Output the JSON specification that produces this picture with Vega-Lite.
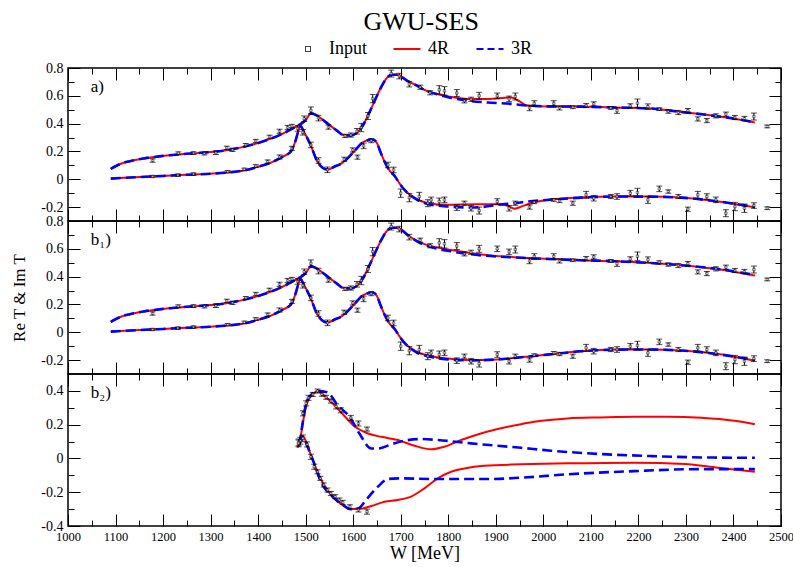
{
"$schema": "https://vega.github.io/schema/vega-lite/v6.json",
"background": "white",
"padding": {"left": 10, "right": 0, "top": 9, "bottom": 3},
"title": {"text": "GWU-SES", "font": "Liberation Serif", "fontSize": 26, "fontWeight": "normal", "color": "black", "anchor": "middle", "dx": 19, "offset": 5},
"spacing": 0,
"bounds": "flush",
"config": {
  "font": "Liberation Serif",
  "view": {"stroke": "black", "strokeWidth": 1.5},
  "axis": {"domain": false, "grid": false, "tickColor": "black", "tickWidth": 1, "labelColor": "black", "titleColor": "black", "labelFont": "Liberation Serif", "titleFont": "Liberation Serif", "labelFlush": false, "labelOverlap": false}
},
"resolve": {"scale": {"y": "independent"}},
"datasets": {
"inp": [
{"p":"ab","c":"Re","W":1178,"v":0.135,"lo":0.123,"hi":0.147},
{"p":"ab","c":"Re","W":1232,"v":0.187,"lo":0.177,"hi":0.197},
{"p":"ab","c":"Re","W":1264,"v":0.188,"lo":0.178,"hi":0.198},
{"p":"ab","c":"Re","W":1287,"v":0.185,"lo":0.175,"hi":0.195},
{"p":"ab","c":"Re","W":1311,"v":0.190,"lo":0.178,"hi":0.202},
{"p":"ab","c":"Re","W":1334,"v":0.226,"lo":0.214,"hi":0.238},
{"p":"ab","c":"Re","W":1346,"v":0.212,"lo":0.200,"hi":0.224},
{"p":"ab","c":"Re","W":1374,"v":0.247,"lo":0.237,"hi":0.257},
{"p":"ab","c":"Re","W":1395,"v":0.275,"lo":0.263,"hi":0.287},
{"p":"ab","c":"Re","W":1424,"v":0.305,"lo":0.293,"hi":0.317},
{"p":"ab","c":"Re","W":1445,"v":0.345,"lo":0.330,"hi":0.360},
{"p":"ab","c":"Re","W":1462,"v":0.372,"lo":0.357,"hi":0.387},
{"p":"ab","c":"Re","W":1471,"v":0.383,"lo":0.371,"hi":0.395},
{"p":"ab","c":"Re","W":1497,"v":0.435,"lo":0.415,"hi":0.455},
{"p":"ab","c":"Re","W":1511,"v":0.495,"lo":0.470,"hi":0.520},
{"p":"ab","c":"Re","W":1527,"v":0.440,"lo":0.420,"hi":0.460},
{"p":"ab","c":"Re","W":1548,"v":0.375,"lo":0.360,"hi":0.390},
{"p":"ab","c":"Re","W":1583,"v":0.312,"lo":0.300,"hi":0.324},
{"p":"ab","c":"Re","W":1595,"v":0.318,"lo":0.303,"hi":0.333},
{"p":"ab","c":"Re","W":1608,"v":0.345,"lo":0.325,"hi":0.365},
{"p":"ab","c":"Re","W":1617,"v":0.372,"lo":0.342,"hi":0.402},
{"p":"ab","c":"Re","W":1631,"v":0.455,"lo":0.430,"hi":0.480},
{"p":"ab","c":"Re","W":1641,"v":0.580,"lo":0.550,"hi":0.610},
{"p":"ab","c":"Re","W":1680,"v":0.760,"lo":0.735,"hi":0.785},
{"p":"ab","c":"Re","W":1697,"v":0.742,"lo":0.722,"hi":0.762},
{"p":"ab","c":"Re","W":1718,"v":0.684,"lo":0.664,"hi":0.704},
{"p":"ab","c":"Re","W":1741,"v":0.662,"lo":0.647,"hi":0.677},
{"p":"ab","c":"Re","W":1762,"v":0.622,"lo":0.607,"hi":0.637},
{"p":"ab","c":"Re","W":1781,"v":0.643,"lo":0.613,"hi":0.673},
{"p":"ab","c":"Re","W":1792,"v":0.636,"lo":0.606,"hi":0.666},
{"p":"ab","c":"Re","W":1818,"v":0.620,"lo":0.595,"hi":0.645},
{"p":"ab","c":"Re","W":1834,"v":0.564,"lo":0.549,"hi":0.579},
{"p":"ab","c":"Re","W":1848,"v":0.575,"lo":0.560,"hi":0.590},
{"p":"ab","c":"Re","W":1865,"v":0.600,"lo":0.575,"hi":0.625},
{"p":"ab","c":"Re","W":1903,"v":0.600,"lo":0.580,"hi":0.620},
{"p":"ab","c":"Re","W":1928,"v":0.578,"lo":0.558,"hi":0.598},
{"p":"ab","c":"Re","W":1941,"v":0.595,"lo":0.570,"hi":0.620},
{"p":"ab","c":"Re","W":1971,"v":0.513,"lo":0.493,"hi":0.533},
{"p":"ab","c":"Re","W":1981,"v":0.545,"lo":0.525,"hi":0.565},
{"p":"ab","c":"Re","W":2022,"v":0.545,"lo":0.525,"hi":0.565},
{"p":"ab","c":"Re","W":2034,"v":0.513,"lo":0.498,"hi":0.528},
{"p":"ab","c":"Re","W":2062,"v":0.518,"lo":0.508,"hi":0.528},
{"p":"ab","c":"Re","W":2090,"v":0.530,"lo":0.515,"hi":0.545},
{"p":"ab","c":"Re","W":2106,"v":0.542,"lo":0.527,"hi":0.557},
{"p":"ab","c":"Re","W":2142,"v":0.513,"lo":0.503,"hi":0.523},
{"p":"ab","c":"Re","W":2155,"v":0.494,"lo":0.474,"hi":0.514},
{"p":"ab","c":"Re","W":2183,"v":0.528,"lo":0.513,"hi":0.543},
{"p":"ab","c":"Re","W":2198,"v":0.547,"lo":0.517,"hi":0.577},
{"p":"ab","c":"Re","W":2220,"v":0.522,"lo":0.502,"hi":0.542},
{"p":"ab","c":"Re","W":2244,"v":0.504,"lo":0.494,"hi":0.514},
{"p":"ab","c":"Re","W":2263,"v":0.487,"lo":0.475,"hi":0.499},
{"p":"ab","c":"Re","W":2284,"v":0.480,"lo":0.465,"hi":0.495},
{"p":"ab","c":"Re","W":2304,"v":0.494,"lo":0.479,"hi":0.509},
{"p":"ab","c":"Re","W":2325,"v":0.434,"lo":0.419,"hi":0.449},
{"p":"ab","c":"Re","W":2344,"v":0.422,"lo":0.407,"hi":0.437},
{"p":"ab","c":"Re","W":2363,"v":0.456,"lo":0.441,"hi":0.471},
{"p":"ab","c":"Re","W":2384,"v":0.468,"lo":0.453,"hi":0.483},
{"p":"ab","c":"Re","W":2403,"v":0.444,"lo":0.429,"hi":0.459},
{"p":"ab","c":"Re","W":2423,"v":0.437,"lo":0.422,"hi":0.452},
{"p":"ab","c":"Re","W":2443,"v":0.451,"lo":0.426,"hi":0.476},
{"p":"ab","c":"Re","W":2471,"v":0.380,"lo":0.370,"hi":0.390},
{"p":"ab","c":"Im","W":1178,"v":0.020,"lo":0.012,"hi":0.028},
{"p":"ab","c":"Im","W":1231,"v":0.030,"lo":0.022,"hi":0.038},
{"p":"ab","c":"Im","W":1264,"v":0.038,"lo":0.030,"hi":0.046},
{"p":"ab","c":"Im","W":1336,"v":0.055,"lo":0.047,"hi":0.063},
{"p":"ab","c":"Im","W":1371,"v":0.072,"lo":0.064,"hi":0.080},
{"p":"ab","c":"Im","W":1395,"v":0.095,"lo":0.085,"hi":0.105},
{"p":"ab","c":"Im","W":1420,"v":0.127,"lo":0.115,"hi":0.139},
{"p":"ab","c":"Im","W":1445,"v":0.160,"lo":0.145,"hi":0.175},
{"p":"ab","c":"Im","W":1471,"v":0.222,"lo":0.207,"hi":0.237},
{"p":"ab","c":"Im","W":1483,"v":0.365,"lo":0.345,"hi":0.385},
{"p":"ab","c":"Im","W":1494,"v":0.338,"lo":0.318,"hi":0.358},
{"p":"ab","c":"Im","W":1511,"v":0.247,"lo":0.227,"hi":0.267},
{"p":"ab","c":"Im","W":1527,"v":0.135,"lo":0.115,"hi":0.155},
{"p":"ab","c":"Im","W":1546,"v":0.068,"lo":0.048,"hi":0.088},
{"p":"ab","c":"Im","W":1581,"v":0.144,"lo":0.129,"hi":0.159},
{"p":"ab","c":"Im","W":1599,"v":0.211,"lo":0.196,"hi":0.226},
{"p":"ab","c":"Im","W":1609,"v":0.159,"lo":0.144,"hi":0.174},
{"p":"ab","c":"Im","W":1622,"v":0.240,"lo":0.220,"hi":0.260},
{"p":"ab","c":"Im","W":1638,"v":0.278,"lo":0.263,"hi":0.293},
{"p":"ab","c":"Im","W":1673,"v":0.103,"lo":0.083,"hi":0.123},
{"p":"ab","c":"Im","W":1685,"v":0.067,"lo":0.047,"hi":0.087},
{"p":"ab","c":"Im","W":1700,"v":-0.100,"lo":-0.130,"hi":-0.070},
{"p":"ab","c":"Im","W":1718,"v":-0.132,"lo":-0.162,"hi":-0.102},
{"p":"ab","c":"Im","W":1739,"v":-0.124,"lo":-0.154,"hi":-0.094},
{"p":"ab","c":"Im","W":1757,"v":-0.172,"lo":-0.197,"hi":-0.147},
{"p":"ab","c":"Im","W":1764,"v":-0.148,"lo":-0.168,"hi":-0.128},
{"p":"ab","c":"Im","W":1781,"v":-0.160,"lo":-0.185,"hi":-0.135},
{"p":"ab","c":"Im","W":1792,"v":-0.148,"lo":-0.168,"hi":-0.128},
{"p":"ab","c":"Im","W":1818,"v":-0.204,"lo":-0.224,"hi":-0.184},
{"p":"ab","c":"Im","W":1834,"v":-0.172,"lo":-0.187,"hi":-0.157},
{"p":"ab","c":"Im","W":1848,"v":-0.208,"lo":-0.228,"hi":-0.188},
{"p":"ab","c":"Im","W":1865,"v":-0.225,"lo":-0.250,"hi":-0.200},
{"p":"ab","c":"Im","W":1903,"v":-0.160,"lo":-0.180,"hi":-0.140},
{"p":"ab","c":"Im","W":1928,"v":-0.208,"lo":-0.228,"hi":-0.188},
{"p":"ab","c":"Im","W":1941,"v":-0.172,"lo":-0.187,"hi":-0.157},
{"p":"ab","c":"Im","W":1971,"v":-0.200,"lo":-0.215,"hi":-0.185},
{"p":"ab","c":"Im","W":1981,"v":-0.165,"lo":-0.175,"hi":-0.155},
{"p":"ab","c":"Im","W":2022,"v":-0.148,"lo":-0.158,"hi":-0.138},
{"p":"ab","c":"Im","W":2034,"v":-0.156,"lo":-0.168,"hi":-0.144},
{"p":"ab","c":"Im","W":2062,"v":-0.172,"lo":-0.187,"hi":-0.157},
{"p":"ab","c":"Im","W":2090,"v":-0.112,"lo":-0.137,"hi":-0.087},
{"p":"ab","c":"Im","W":2106,"v":-0.136,"lo":-0.156,"hi":-0.116},
{"p":"ab","c":"Im","W":2142,"v":-0.124,"lo":-0.139,"hi":-0.109},
{"p":"ab","c":"Im","W":2155,"v":-0.124,"lo":-0.144,"hi":-0.104},
{"p":"ab","c":"Im","W":2183,"v":-0.100,"lo":-0.120,"hi":-0.080},
{"p":"ab","c":"Im","W":2198,"v":-0.095,"lo":-0.125,"hi":-0.065},
{"p":"ab","c":"Im","W":2220,"v":-0.148,"lo":-0.173,"hi":-0.123},
{"p":"ab","c":"Im","W":2244,"v":-0.069,"lo":-0.089,"hi":-0.049},
{"p":"ab","c":"Im","W":2263,"v":-0.088,"lo":-0.100,"hi":-0.076},
{"p":"ab","c":"Im","W":2284,"v":-0.124,"lo":-0.139,"hi":-0.109},
{"p":"ab","c":"Im","W":2304,"v":-0.215,"lo":-0.230,"hi":-0.200},
{"p":"ab","c":"Im","W":2325,"v":-0.112,"lo":-0.137,"hi":-0.087},
{"p":"ab","c":"Im","W":2344,"v":-0.124,"lo":-0.144,"hi":-0.104},
{"p":"ab","c":"Im","W":2363,"v":-0.148,"lo":-0.168,"hi":-0.128},
{"p":"ab","c":"Im","W":2384,"v":-0.244,"lo":-0.269,"hi":-0.219},
{"p":"ab","c":"Im","W":2403,"v":-0.196,"lo":-0.226,"hi":-0.166},
{"p":"ab","c":"Im","W":2423,"v":-0.208,"lo":-0.238,"hi":-0.178},
{"p":"ab","c":"Im","W":2443,"v":-0.189,"lo":-0.209,"hi":-0.169},
{"p":"ab","c":"Im","W":2471,"v":-0.208,"lo":-0.218,"hi":-0.198},
{"p":"b2","c":"Re","W":1485,"v":0.095,"lo":0.075,"hi":0.115},
{"p":"b2","c":"Re","W":1489,"v":0.105,"lo":0.085,"hi":0.125},
{"p":"b2","c":"Re","W":1494,"v":0.267,"lo":0.252,"hi":0.282},
{"p":"b2","c":"Re","W":1501,"v":0.326,"lo":0.311,"hi":0.341},
{"p":"b2","c":"Re","W":1506,"v":0.359,"lo":0.344,"hi":0.374},
{"p":"b2","c":"Re","W":1515,"v":0.379,"lo":0.367,"hi":0.391},
{"p":"b2","c":"Re","W":1525,"v":0.399,"lo":0.387,"hi":0.411},
{"p":"b2","c":"Re","W":1534,"v":0.380,"lo":0.368,"hi":0.392},
{"p":"b2","c":"Re","W":1543,"v":0.362,"lo":0.350,"hi":0.374},
{"p":"b2","c":"Re","W":1553,"v":0.340,"lo":0.328,"hi":0.352},
{"p":"b2","c":"Re","W":1564,"v":0.308,"lo":0.293,"hi":0.323},
{"p":"b2","c":"Re","W":1574,"v":0.285,"lo":0.270,"hi":0.300},
{"p":"b2","c":"Re","W":1595,"v":0.240,"lo":0.225,"hi":0.255},
{"p":"b2","c":"Re","W":1611,"v":0.207,"lo":0.192,"hi":0.222},
{"p":"b2","c":"Re","W":1629,"v":0.174,"lo":0.162,"hi":0.186},
{"p":"b2","c":"Im","W":1485,"v":0.089,"lo":0.069,"hi":0.109},
{"p":"b2","c":"Im","W":1494,"v":0.119,"lo":0.099,"hi":0.139},
{"p":"b2","c":"Im","W":1503,"v":0.083,"lo":0.068,"hi":0.098},
{"p":"b2","c":"Im","W":1511,"v":0.010,"lo":-0.005,"hi":0.025},
{"p":"b2","c":"Im","W":1518,"v":-0.049,"lo":-0.064,"hi":-0.034},
{"p":"b2","c":"Im","W":1525,"v":-0.079,"lo":-0.091,"hi":-0.067},
{"p":"b2","c":"Im","W":1531,"v":-0.118,"lo":-0.130,"hi":-0.106},
{"p":"b2","c":"Im","W":1538,"v":-0.157,"lo":-0.169,"hi":-0.145},
{"p":"b2","c":"Im","W":1546,"v":-0.187,"lo":-0.199,"hi":-0.175},
{"p":"b2","c":"Im","W":1553,"v":-0.207,"lo":-0.219,"hi":-0.195},
{"p":"b2","c":"Im","W":1562,"v":-0.226,"lo":-0.238,"hi":-0.214},
{"p":"b2","c":"Im","W":1571,"v":-0.246,"lo":-0.258,"hi":-0.234},
{"p":"b2","c":"Im","W":1578,"v":-0.260,"lo":-0.272,"hi":-0.248},
{"p":"b2","c":"Im","W":1593,"v":-0.286,"lo":-0.298,"hi":-0.274},
{"p":"b2","c":"Im","W":1611,"v":-0.305,"lo":-0.317,"hi":-0.293},
{"p":"b2","c":"Im","W":1629,"v":-0.315,"lo":-0.330,"hi":-0.300}
],
"cur": [
{"p":"ab","m":"4R","c":"Re","W":1090,"v":0.075},{"p":"ab","m":"4R","c":"Re","W":1110,"v":0.11},{"p":"ab","m":"4R","c":"Re","W":1130,"v":0.13},{"p":"ab","m":"4R","c":"Re","W":1160,"v":0.15},{"p":"ab","m":"4R","c":"Re","W":1200,"v":0.168},{"p":"ab","m":"4R","c":"Re","W":1250,"v":0.183},{"p":"ab","m":"4R","c":"Re","W":1300,"v":0.196},{"p":"ab","m":"4R","c":"Re","W":1340,"v":0.212},{"p":"ab","m":"4R","c":"Re","W":1380,"v":0.242},{"p":"ab","m":"4R","c":"Re","W":1420,"v":0.283},{"p":"ab","m":"4R","c":"Re","W":1450,"v":0.325},{"p":"ab","m":"4R","c":"Re","W":1470,"v":0.36},{"p":"ab","m":"4R","c":"Re","W":1483,"v":0.386},{"p":"ab","m":"4R","c":"Re","W":1495,"v":0.41},{"p":"ab","m":"4R","c":"Re","W":1503,"v":0.44},{"p":"ab","m":"4R","c":"Re","W":1511,"v":0.474},{"p":"ab","m":"4R","c":"Re","W":1520,"v":0.465},{"p":"ab","m":"4R","c":"Re","W":1535,"v":0.43},{"p":"ab","m":"4R","c":"Re","W":1550,"v":0.39},{"p":"ab","m":"4R","c":"Re","W":1565,"v":0.352},{"p":"ab","m":"4R","c":"Re","W":1581,"v":0.316},{"p":"ab","m":"4R","c":"Re","W":1595,"v":0.315},{"p":"ab","m":"4R","c":"Re","W":1608,"v":0.335},{"p":"ab","m":"4R","c":"Re","W":1620,"v":0.385},{"p":"ab","m":"4R","c":"Re","W":1638,"v":0.51},{"p":"ab","m":"4R","c":"Re","W":1650,"v":0.6},{"p":"ab","m":"4R","c":"Re","W":1660,"v":0.67},{"p":"ab","m":"4R","c":"Re","W":1670,"v":0.725},{"p":"ab","m":"4R","c":"Re","W":1680,"v":0.752},{"p":"ab","m":"4R","c":"Re","W":1690,"v":0.752},{"p":"ab","m":"4R","c":"Re","W":1700,"v":0.74},
{"p":"ab","m":"3R","c":"Re","W":1090,"v":0.075},{"p":"ab","m":"3R","c":"Re","W":1110,"v":0.11},{"p":"ab","m":"3R","c":"Re","W":1130,"v":0.13},{"p":"ab","m":"3R","c":"Re","W":1160,"v":0.15},{"p":"ab","m":"3R","c":"Re","W":1200,"v":0.168},{"p":"ab","m":"3R","c":"Re","W":1250,"v":0.183},{"p":"ab","m":"3R","c":"Re","W":1300,"v":0.196},{"p":"ab","m":"3R","c":"Re","W":1340,"v":0.212},{"p":"ab","m":"3R","c":"Re","W":1380,"v":0.242},{"p":"ab","m":"3R","c":"Re","W":1420,"v":0.283},{"p":"ab","m":"3R","c":"Re","W":1450,"v":0.325},{"p":"ab","m":"3R","c":"Re","W":1470,"v":0.36},{"p":"ab","m":"3R","c":"Re","W":1483,"v":0.386},{"p":"ab","m":"3R","c":"Re","W":1495,"v":0.41},{"p":"ab","m":"3R","c":"Re","W":1503,"v":0.44},{"p":"ab","m":"3R","c":"Re","W":1511,"v":0.474},{"p":"ab","m":"3R","c":"Re","W":1520,"v":0.465},{"p":"ab","m":"3R","c":"Re","W":1535,"v":0.43},{"p":"ab","m":"3R","c":"Re","W":1550,"v":0.39},{"p":"ab","m":"3R","c":"Re","W":1565,"v":0.352},{"p":"ab","m":"3R","c":"Re","W":1581,"v":0.316},{"p":"ab","m":"3R","c":"Re","W":1595,"v":0.315},{"p":"ab","m":"3R","c":"Re","W":1608,"v":0.335},{"p":"ab","m":"3R","c":"Re","W":1620,"v":0.385},{"p":"ab","m":"3R","c":"Re","W":1638,"v":0.51},{"p":"ab","m":"3R","c":"Re","W":1650,"v":0.6},{"p":"ab","m":"3R","c":"Re","W":1660,"v":0.67},{"p":"ab","m":"3R","c":"Re","W":1670,"v":0.725},{"p":"ab","m":"3R","c":"Re","W":1680,"v":0.752},{"p":"ab","m":"3R","c":"Re","W":1690,"v":0.752},{"p":"ab","m":"3R","c":"Re","W":1700,"v":0.74},
{"p":"ab","m":"4R","c":"Im","W":1090,"v":0.005},{"p":"ab","m":"4R","c":"Im","W":1150,"v":0.016},{"p":"ab","m":"4R","c":"Im","W":1200,"v":0.024},{"p":"ab","m":"4R","c":"Im","W":1250,"v":0.032},{"p":"ab","m":"4R","c":"Im","W":1300,"v":0.04},{"p":"ab","m":"4R","c":"Im","W":1340,"v":0.05},{"p":"ab","m":"4R","c":"Im","W":1370,"v":0.063},{"p":"ab","m":"4R","c":"Im","W":1400,"v":0.09},{"p":"ab","m":"4R","c":"Im","W":1427,"v":0.12},{"p":"ab","m":"4R","c":"Im","W":1450,"v":0.16},{"p":"ab","m":"4R","c":"Im","W":1469,"v":0.2},{"p":"ab","m":"4R","c":"Im","W":1478,"v":0.27},{"p":"ab","m":"4R","c":"Im","W":1484,"v":0.34},{"p":"ab","m":"4R","c":"Im","W":1489,"v":0.385},{"p":"ab","m":"4R","c":"Im","W":1495,"v":0.35},{"p":"ab","m":"4R","c":"Im","W":1510,"v":0.25},{"p":"ab","m":"4R","c":"Im","W":1525,"v":0.125},{"p":"ab","m":"4R","c":"Im","W":1535,"v":0.085},{"p":"ab","m":"4R","c":"Im","W":1546,"v":0.07},{"p":"ab","m":"4R","c":"Im","W":1560,"v":0.09},{"p":"ab","m":"4R","c":"Im","W":1578,"v":0.12},{"p":"ab","m":"4R","c":"Im","W":1602,"v":0.2},{"p":"ab","m":"4R","c":"Im","W":1620,"v":0.265},{"p":"ab","m":"4R","c":"Im","W":1635,"v":0.283},{"p":"ab","m":"4R","c":"Im","W":1643,"v":0.282},{"p":"ab","m":"4R","c":"Im","W":1650,"v":0.26},{"p":"ab","m":"4R","c":"Im","W":1658,"v":0.19},{"p":"ab","m":"4R","c":"Im","W":1666,"v":0.127},{"p":"ab","m":"4R","c":"Im","W":1677,"v":0.06},{"p":"ab","m":"4R","c":"Im","W":1687,"v":0.025},{"p":"ab","m":"4R","c":"Im","W":1697,"v":-0.028},{"p":"ab","m":"4R","c":"Im","W":1708,"v":-0.076},
{"p":"ab","m":"3R","c":"Im","W":1090,"v":0.005},{"p":"ab","m":"3R","c":"Im","W":1150,"v":0.016},{"p":"ab","m":"3R","c":"Im","W":1200,"v":0.024},{"p":"ab","m":"3R","c":"Im","W":1250,"v":0.032},{"p":"ab","m":"3R","c":"Im","W":1300,"v":0.04},{"p":"ab","m":"3R","c":"Im","W":1340,"v":0.05},{"p":"ab","m":"3R","c":"Im","W":1370,"v":0.063},{"p":"ab","m":"3R","c":"Im","W":1400,"v":0.09},{"p":"ab","m":"3R","c":"Im","W":1427,"v":0.12},{"p":"ab","m":"3R","c":"Im","W":1450,"v":0.16},{"p":"ab","m":"3R","c":"Im","W":1469,"v":0.2},{"p":"ab","m":"3R","c":"Im","W":1478,"v":0.27},{"p":"ab","m":"3R","c":"Im","W":1484,"v":0.34},{"p":"ab","m":"3R","c":"Im","W":1489,"v":0.385},{"p":"ab","m":"3R","c":"Im","W":1495,"v":0.35},{"p":"ab","m":"3R","c":"Im","W":1510,"v":0.25},{"p":"ab","m":"3R","c":"Im","W":1525,"v":0.125},{"p":"ab","m":"3R","c":"Im","W":1535,"v":0.085},{"p":"ab","m":"3R","c":"Im","W":1546,"v":0.07},{"p":"ab","m":"3R","c":"Im","W":1560,"v":0.09},{"p":"ab","m":"3R","c":"Im","W":1578,"v":0.12},{"p":"ab","m":"3R","c":"Im","W":1602,"v":0.2},{"p":"ab","m":"3R","c":"Im","W":1620,"v":0.265},{"p":"ab","m":"3R","c":"Im","W":1635,"v":0.283},{"p":"ab","m":"3R","c":"Im","W":1643,"v":0.282},{"p":"ab","m":"3R","c":"Im","W":1650,"v":0.26},{"p":"ab","m":"3R","c":"Im","W":1658,"v":0.19},{"p":"ab","m":"3R","c":"Im","W":1666,"v":0.127},{"p":"ab","m":"3R","c":"Im","W":1677,"v":0.06},{"p":"ab","m":"3R","c":"Im","W":1687,"v":0.025},{"p":"ab","m":"3R","c":"Im","W":1697,"v":-0.028},{"p":"ab","m":"3R","c":"Im","W":1708,"v":-0.076},
{"p":"a","m":"4R","c":"Re","W":1715,"v":0.705},{"p":"a","m":"4R","c":"Re","W":1730,"v":0.68},{"p":"a","m":"4R","c":"Re","W":1757,"v":0.632},{"p":"a","m":"4R","c":"Re","W":1780,"v":0.61},{"p":"a","m":"4R","c":"Re","W":1800,"v":0.596},{"p":"a","m":"4R","c":"Re","W":1841,"v":0.578},{"p":"a","m":"4R","c":"Re","W":1883,"v":0.578},{"p":"a","m":"4R","c":"Re","W":1932,"v":0.588},{"p":"a","m":"4R","c":"Re","W":1950,"v":0.56},{"p":"a","m":"4R","c":"Re","W":1967,"v":0.528},{"p":"a","m":"4R","c":"Re","W":2009,"v":0.523},{"p":"a","m":"4R","c":"Re","W":2079,"v":0.523},{"p":"a","m":"4R","c":"Re","W":2149,"v":0.516},{"p":"a","m":"4R","c":"Re","W":2220,"v":0.511},{"p":"a","m":"4R","c":"Re","W":2290,"v":0.484},{"p":"a","m":"4R","c":"Re","W":2360,"v":0.456},{"p":"a","m":"4R","c":"Re","W":2400,"v":0.437},{"p":"a","m":"4R","c":"Re","W":2445,"v":0.408},
{"p":"a","m":"3R","c":"Re","W":1715,"v":0.705},{"p":"a","m":"3R","c":"Re","W":1730,"v":0.68},{"p":"a","m":"3R","c":"Re","W":1757,"v":0.632},{"p":"a","m":"3R","c":"Re","W":1780,"v":0.608},{"p":"a","m":"3R","c":"Re","W":1800,"v":0.59},{"p":"a","m":"3R","c":"Re","W":1841,"v":0.565},{"p":"a","m":"3R","c":"Re","W":1883,"v":0.552},{"p":"a","m":"3R","c":"Re","W":1932,"v":0.542},{"p":"a","m":"3R","c":"Re","W":1967,"v":0.53},{"p":"a","m":"3R","c":"Re","W":2009,"v":0.524},{"p":"a","m":"3R","c":"Re","W":2079,"v":0.522},{"p":"a","m":"3R","c":"Re","W":2149,"v":0.516},{"p":"a","m":"3R","c":"Re","W":2220,"v":0.51},{"p":"a","m":"3R","c":"Re","W":2290,"v":0.484},{"p":"a","m":"3R","c":"Re","W":2360,"v":0.456},{"p":"a","m":"3R","c":"Re","W":2400,"v":0.437},{"p":"a","m":"3R","c":"Re","W":2445,"v":0.41},
{"p":"a","m":"4R","c":"Im","W":1729,"v":-0.134},{"p":"a","m":"4R","c":"Im","W":1757,"v":-0.172},{"p":"a","m":"4R","c":"Im","W":1799,"v":-0.184},{"p":"a","m":"4R","c":"Im","W":1855,"v":-0.18},{"p":"a","m":"4R","c":"Im","W":1904,"v":-0.18},{"p":"a","m":"4R","c":"Im","W":1925,"v":-0.19},{"p":"a","m":"4R","c":"Im","W":1939,"v":-0.212},{"p":"a","m":"4R","c":"Im","W":1955,"v":-0.195},{"p":"a","m":"4R","c":"Im","W":1967,"v":-0.18},{"p":"a","m":"4R","c":"Im","W":2009,"v":-0.148},{"p":"a","m":"4R","c":"Im","W":2079,"v":-0.131},{"p":"a","m":"4R","c":"Im","W":2149,"v":-0.124},{"p":"a","m":"4R","c":"Im","W":2220,"v":-0.124},{"p":"a","m":"4R","c":"Im","W":2290,"v":-0.131},{"p":"a","m":"4R","c":"Im","W":2360,"v":-0.156},{"p":"a","m":"4R","c":"Im","W":2445,"v":-0.202},
{"p":"a","m":"3R","c":"Im","W":1729,"v":-0.136},{"p":"a","m":"3R","c":"Im","W":1757,"v":-0.178},{"p":"a","m":"3R","c":"Im","W":1799,"v":-0.196},{"p":"a","m":"3R","c":"Im","W":1855,"v":-0.203},{"p":"a","m":"3R","c":"Im","W":1904,"v":-0.184},{"p":"a","m":"3R","c":"Im","W":1939,"v":-0.172},{"p":"a","m":"3R","c":"Im","W":1967,"v":-0.16},{"p":"a","m":"3R","c":"Im","W":2009,"v":-0.149},{"p":"a","m":"3R","c":"Im","W":2079,"v":-0.132},{"p":"a","m":"3R","c":"Im","W":2149,"v":-0.124},{"p":"a","m":"3R","c":"Im","W":2220,"v":-0.125},{"p":"a","m":"3R","c":"Im","W":2290,"v":-0.132},{"p":"a","m":"3R","c":"Im","W":2360,"v":-0.156},{"p":"a","m":"3R","c":"Im","W":2445,"v":-0.2},
{"p":"b1","m":"4R","c":"Re","W":1715,"v":0.698},{"p":"b1","m":"4R","c":"Re","W":1743,"v":0.643},{"p":"b1","m":"4R","c":"Re","W":1771,"v":0.614},{"p":"b1","m":"4R","c":"Re","W":1813,"v":0.588},{"p":"b1","m":"4R","c":"Re","W":1869,"v":0.559},{"p":"b1","m":"4R","c":"Re","W":1939,"v":0.54},{"p":"b1","m":"4R","c":"Re","W":2009,"v":0.528},{"p":"b1","m":"4R","c":"Re","W":2079,"v":0.518},{"p":"b1","m":"4R","c":"Re","W":2149,"v":0.511},{"p":"b1","m":"4R","c":"Re","W":2220,"v":0.499},{"p":"b1","m":"4R","c":"Re","W":2290,"v":0.482},{"p":"b1","m":"4R","c":"Re","W":2360,"v":0.456},{"p":"b1","m":"4R","c":"Re","W":2445,"v":0.408},
{"p":"b1","m":"3R","c":"Re","W":1715,"v":0.698},{"p":"b1","m":"3R","c":"Re","W":1743,"v":0.638},{"p":"b1","m":"3R","c":"Re","W":1771,"v":0.606},{"p":"b1","m":"3R","c":"Re","W":1813,"v":0.578},{"p":"b1","m":"3R","c":"Re","W":1869,"v":0.553},{"p":"b1","m":"3R","c":"Re","W":1939,"v":0.538},{"p":"b1","m":"3R","c":"Re","W":2009,"v":0.527},{"p":"b1","m":"3R","c":"Re","W":2079,"v":0.518},{"p":"b1","m":"3R","c":"Re","W":2149,"v":0.511},{"p":"b1","m":"3R","c":"Re","W":2220,"v":0.499},{"p":"b1","m":"3R","c":"Re","W":2290,"v":0.482},{"p":"b1","m":"3R","c":"Re","W":2360,"v":0.458},{"p":"b1","m":"3R","c":"Re","W":2445,"v":0.412},
{"p":"b1","m":"4R","c":"Im","W":1729,"v":-0.132},{"p":"b1","m":"4R","c":"Im","W":1764,"v":-0.172},{"p":"b1","m":"4R","c":"Im","W":1799,"v":-0.189},{"p":"b1","m":"4R","c":"Im","W":1848,"v":-0.201},{"p":"b1","m":"4R","c":"Im","W":1904,"v":-0.196},{"p":"b1","m":"4R","c":"Im","W":1953,"v":-0.18},{"p":"b1","m":"4R","c":"Im","W":2009,"v":-0.16},{"p":"b1","m":"4R","c":"Im","W":2079,"v":-0.136},{"p":"b1","m":"4R","c":"Im","W":2149,"v":-0.124},{"p":"b1","m":"4R","c":"Im","W":2220,"v":-0.124},{"p":"b1","m":"4R","c":"Im","W":2290,"v":-0.131},{"p":"b1","m":"4R","c":"Im","W":2360,"v":-0.153},{"p":"b1","m":"4R","c":"Im","W":2445,"v":-0.204},
{"p":"b1","m":"3R","c":"Im","W":1729,"v":-0.136},{"p":"b1","m":"3R","c":"Im","W":1764,"v":-0.178},{"p":"b1","m":"3R","c":"Im","W":1799,"v":-0.195},{"p":"b1","m":"3R","c":"Im","W":1848,"v":-0.202},{"p":"b1","m":"3R","c":"Im","W":1904,"v":-0.195},{"p":"b1","m":"3R","c":"Im","W":1953,"v":-0.18},{"p":"b1","m":"3R","c":"Im","W":2009,"v":-0.161},{"p":"b1","m":"3R","c":"Im","W":2079,"v":-0.137},{"p":"b1","m":"3R","c":"Im","W":2149,"v":-0.125},{"p":"b1","m":"3R","c":"Im","W":2220,"v":-0.124},{"p":"b1","m":"3R","c":"Im","W":2290,"v":-0.131},{"p":"b1","m":"3R","c":"Im","W":2360,"v":-0.154},{"p":"b1","m":"3R","c":"Im","W":2445,"v":-0.2},
{"p":"b2","m":"4R","c":"Re","W":1483,"v":0.063},{"p":"b2","m":"4R","c":"Re","W":1490,"v":0.138},{"p":"b2","m":"4R","c":"Re","W":1497,"v":0.257},{"p":"b2","m":"4R","c":"Re","W":1504,"v":0.336},{"p":"b2","m":"4R","c":"Re","W":1515,"v":0.379},{"p":"b2","m":"4R","c":"Re","W":1525,"v":0.399},{"p":"b2","m":"4R","c":"Re","W":1539,"v":0.371},{"p":"b2","m":"4R","c":"Re","W":1560,"v":0.316},{"p":"b2","m":"4R","c":"Re","W":1581,"v":0.253},{"p":"b2","m":"4R","c":"Re","W":1602,"v":0.192},{"p":"b2","m":"4R","c":"Re","W":1631,"v":0.148},{"p":"b2","m":"4R","c":"Re","W":1659,"v":0.128},{"p":"b2","m":"4R","c":"Re","W":1694,"v":0.109},{"p":"b2","m":"4R","c":"Re","W":1729,"v":0.075},{"p":"b2","m":"4R","c":"Re","W":1764,"v":0.054},{"p":"b2","m":"4R","c":"Re","W":1792,"v":0.069},{"p":"b2","m":"4R","c":"Re","W":1827,"v":0.109},{"p":"b2","m":"4R","c":"Re","W":1862,"v":0.142},{"p":"b2","m":"4R","c":"Re","W":1904,"v":0.174},{"p":"b2","m":"4R","c":"Re","W":1953,"v":0.203},{"p":"b2","m":"4R","c":"Re","W":1981,"v":0.217},{"p":"b2","m":"4R","c":"Re","W":2051,"v":0.237},{"p":"b2","m":"4R","c":"Re","W":2121,"v":0.243},{"p":"b2","m":"4R","c":"Re","W":2192,"v":0.247},{"p":"b2","m":"4R","c":"Re","W":2262,"v":0.247},{"p":"b2","m":"4R","c":"Re","W":2332,"v":0.241},{"p":"b2","m":"4R","c":"Re","W":2402,"v":0.223},{"p":"b2","m":"4R","c":"Re","W":2445,"v":0.203},
{"p":"b2","m":"3R","c":"Re","W":1487,"v":0.079},{"p":"b2","m":"3R","c":"Re","W":1494,"v":0.217},{"p":"b2","m":"3R","c":"Re","W":1501,"v":0.326},{"p":"b2","m":"3R","c":"Re","W":1511,"v":0.375},{"p":"b2","m":"3R","c":"Re","W":1525,"v":0.401},{"p":"b2","m":"3R","c":"Re","W":1546,"v":0.391},{"p":"b2","m":"3R","c":"Re","W":1567,"v":0.316},{"p":"b2","m":"3R","c":"Re","W":1592,"v":0.247},{"p":"b2","m":"3R","c":"Re","W":1613,"v":0.148},{"p":"b2","m":"3R","c":"Re","W":1638,"v":0.059},{"p":"b2","m":"3R","c":"Re","W":1652,"v":0.059},{"p":"b2","m":"3R","c":"Re","W":1680,"v":0.083},{"p":"b2","m":"3R","c":"Re","W":1708,"v":0.105},{"p":"b2","m":"3R","c":"Re","W":1743,"v":0.115},{"p":"b2","m":"3R","c":"Re","W":1778,"v":0.109},{"p":"b2","m":"3R","c":"Re","W":1848,"v":0.089},{"p":"b2","m":"3R","c":"Re","W":1953,"v":0.063},{"p":"b2","m":"3R","c":"Re","W":2016,"v":0.046},{"p":"b2","m":"3R","c":"Re","W":2121,"v":0.026},{"p":"b2","m":"3R","c":"Re","W":2227,"v":0.014},{"p":"b2","m":"3R","c":"Re","W":2332,"v":0.006},{"p":"b2","m":"3R","c":"Re","W":2445,"v":0.004},
{"p":"b2","m":"4R","c":"Im","W":1485,"v":0.069},{"p":"b2","m":"4R","c":"Im","W":1494,"v":0.132},{"p":"b2","m":"4R","c":"Im","W":1501,"v":0.099},{"p":"b2","m":"4R","c":"Im","W":1511,"v":0.02},{"p":"b2","m":"4R","c":"Im","W":1525,"v":-0.079},{"p":"b2","m":"4R","c":"Im","W":1543,"v":-0.177},{"p":"b2","m":"4R","c":"Im","W":1560,"v":-0.236},{"p":"b2","m":"4R","c":"Im","W":1578,"v":-0.276},{"p":"b2","m":"4R","c":"Im","W":1595,"v":-0.299},{"p":"b2","m":"4R","c":"Im","W":1613,"v":-0.299},{"p":"b2","m":"4R","c":"Im","W":1638,"v":-0.282},{"p":"b2","m":"4R","c":"Im","W":1666,"v":-0.256},{"p":"b2","m":"4R","c":"Im","W":1694,"v":-0.246},{"p":"b2","m":"4R","c":"Im","W":1722,"v":-0.226},{"p":"b2","m":"4R","c":"Im","W":1750,"v":-0.177},{"p":"b2","m":"4R","c":"Im","W":1778,"v":-0.118},{"p":"b2","m":"4R","c":"Im","W":1806,"v":-0.079},{"p":"b2","m":"4R","c":"Im","W":1834,"v":-0.059},{"p":"b2","m":"4R","c":"Im","W":1876,"v":-0.043},{"p":"b2","m":"4R","c":"Im","W":1953,"v":-0.035},{"p":"b2","m":"4R","c":"Im","W":2051,"v":-0.029},{"p":"b2","m":"4R","c":"Im","W":2192,"v":-0.025},{"p":"b2","m":"4R","c":"Im","W":2297,"v":-0.033},{"p":"b2","m":"4R","c":"Im","W":2367,"v":-0.055},{"p":"b2","m":"4R","c":"Im","W":2445,"v":-0.079},
{"p":"b2","m":"3R","c":"Im","W":1487,"v":0.08},{"p":"b2","m":"3R","c":"Im","W":1494,"v":0.128},{"p":"b2","m":"3R","c":"Im","W":1504,"v":0.069},{"p":"b2","m":"3R","c":"Im","W":1518,"v":-0.03},{"p":"b2","m":"3R","c":"Im","W":1532,"v":-0.138},{"p":"b2","m":"3R","c":"Im","W":1553,"v":-0.217},{"p":"b2","m":"3R","c":"Im","W":1574,"v":-0.266},{"p":"b2","m":"3R","c":"Im","W":1595,"v":-0.301},{"p":"b2","m":"3R","c":"Im","W":1611,"v":-0.296},{"p":"b2","m":"3R","c":"Im","W":1627,"v":-0.246},{"p":"b2","m":"3R","c":"Im","W":1652,"v":-0.167},{"p":"b2","m":"3R","c":"Im","W":1673,"v":-0.122},{"p":"b2","m":"3R","c":"Im","W":1694,"v":-0.118},{"p":"b2","m":"3R","c":"Im","W":1778,"v":-0.122},{"p":"b2","m":"3R","c":"Im","W":1883,"v":-0.122},{"p":"b2","m":"3R","c":"Im","W":1953,"v":-0.114},{"p":"b2","m":"3R","c":"Im","W":2051,"v":-0.094},{"p":"b2","m":"3R","c":"Im","W":2192,"v":-0.075},{"p":"b2","m":"3R","c":"Im","W":2332,"v":-0.063},{"p":"b2","m":"3R","c":"Im","W":2445,"v":-0.063}
]
},
"vconcat": [
{
 "width": 713, "height": 153,
 "layer": [
  {"data": {"name": "cur"}, "transform": [{"filter": "datum.m == '4R' && (datum.p == 'ab' || datum.p == 'a')"}],
   "mark": {"type": "line", "strokeWidth": 2, "interpolate": "monotone"},
   "encoding": {
    "x": {"field": "W", "type": "quantitative", "scale": {"domain": [1000, 2500], "nice": false, "zero": false}, "axis": {"orient": "bottom", "values": [1000,1100,1200,1300,1400,1500,1600,1700,1800,1900,2000,2100,2200,2300,2400,2500], "tickSize": -12, "labels": false, "title": null}},
    "y": {"field": "v", "type": "quantitative", "scale": {"domain": [-0.3, 0.8], "nice": false, "zero": false}, "axis": {"orient": "left", "values": [-0.2,0,0.2,0.4,0.6,0.8], "tickSize": -12, "labelExpr": "toString(datum.value)", "labelFont": "Liberation Serif", "labelFontSize": 14, "labelPadding": 17, "title": null}},
    "detail": {"field": "c"},
    "color": {"field": "m", "type": "nominal", "scale": {"domain": ["Input", "4R", "3R"], "range": ["black", "red", "blue"]},
      "legend": {"orient": "none", "legendX": 231, "legendY": -28, "direction": "horizontal", "title": null, "labelFont": "Liberation Serif", "labelFontSize": 18, "labelColor": "black", "labelOffset": 12, "columnPadding": 22, "symbolSize": 729, "symbolStrokeWidth": 2, "symbolType": "stroke",
        "encode": {"symbols": {"update": {
          "shape": {"signal": "datum.value === 'Input' ? 'square' : 'stroke'"},
          "size": {"signal": "datum.value === 'Input' ? 25 : 729"},
          "strokeDash": {"signal": "datum.value === '3R' ? [7,4] : [1,0]"},
          "strokeWidth": {"signal": "datum.value === 'Input' ? 1 : 2"},
          "stroke": {"scale": "color", "field": "value"},
          "fill": {"value": "white"},
          "opacity": {"value": 1}}}}}}
   }},
  {"data": {"name": "cur"}, "transform": [{"filter": "datum.m == '3R' && (datum.p == 'ab' || datum.p == 'a')"}],
   "mark": {"type": "line", "strokeWidth": 2.6, "strokeDash": [10, 5], "interpolate": "monotone"},
   "encoding": {
    "x": {"field": "W", "type": "quantitative", "axis": {"orient": "top", "values": [1000,1100,1200,1300,1400,1500,1600,1700,1800,1900,2000,2100,2200,2300,2400,2500], "tickSize": -12, "labels": false, "title": null}},
    "y": {"field": "v", "type": "quantitative", "axis": {"orient": "right", "values": [-0.2,0,0.2,0.4,0.6,0.8], "tickSize": -12, "labels": false, "title": null}},
    "detail": {"field": "c"},
    "color": {"field": "m", "type": "nominal"}
   }},
  {"data": {"name": "inp"}, "transform": [{"filter": "datum.p == 'ab'"}],
   "mark": {"type": "rule", "color": "black", "strokeWidth": 1},
   "encoding": {
    "x": {"field": "W", "type": "quantitative", "axis": {"orient": "bottom", "values": [1050,1150,1250,1350,1450,1550,1650,1750,1850,1950,2050,2150,2250,2350,2450], "tickSize": -6, "labels": false, "title": null}},
    "y": {"field": "lo", "type": "quantitative", "axis": {"orient": "left", "values": [-0.1,0.1,0.3,0.5,0.7], "tickSize": -6, "labels": false, "title": null}},
    "y2": {"field": "hi"}
   }},
  {"data": {"name": "inp"}, "transform": [{"filter": "datum.p == 'ab'"}],
   "mark": {"type": "tick", "orient": "horizontal", "size": 6, "thickness": 1, "color": "black"},
   "encoding": {
    "x": {"field": "W", "type": "quantitative", "axis": {"orient": "top", "values": [1050,1150,1250,1350,1450,1550,1650,1750,1850,1950,2050,2150,2250,2350,2450], "tickSize": -6, "labels": false, "title": null}},
    "y": {"field": "lo", "type": "quantitative", "axis": {"orient": "right", "values": [-0.1,0.1,0.3,0.5,0.7], "tickSize": -6, "labels": false, "title": null}}
   }},
  {"data": {"name": "inp"}, "transform": [{"filter": "datum.p == 'ab'"}],
   "mark": {"type": "tick", "orient": "horizontal", "size": 6, "thickness": 1, "color": "black"},
   "encoding": {
    "x": {"field": "W", "type": "quantitative", "axis": null},
    "y": {"field": "hi", "type": "quantitative", "axis": null}
   }},
  {"data": {"name": "inp"}, "transform": [{"filter": "datum.p == 'ab'"}],
   "mark": {"type": "point", "shape": "square", "size": 6, "filled": false, "stroke": "black", "strokeWidth": 0.7, "fill": "white"},
   "encoding": {
    "x": {"field": "W", "type": "quantitative", "axis": null},
    "y": {"field": "v", "type": "quantitative", "axis": null}
   }},
  {"data": {"values": [{"t": "a)", "W": 1048, "v": 0.63}]},
   "mark": {"type": "text", "align": "left", "baseline": "alphabetic", "fontSize": 17, "font": "Liberation Serif", "color": "black"},
   "encoding": {
    "x": {"field": "W", "type": "quantitative", "axis": null},
    "y": {"field": "v", "type": "quantitative", "axis": null},
    "text": {"field": "t"}
   }}
 ],
 "resolve": {"axis": {"x": "independent", "y": "independent"}}
},
{
 "width": 713, "height": 153,
 "layer": [
  {"data": {"name": "cur"}, "transform": [{"filter": "datum.m == '4R' && (datum.p == 'ab' || datum.p == 'b1')"}],
   "mark": {"type": "line", "strokeWidth": 2, "interpolate": "monotone"},
   "encoding": {
    "x": {"field": "W", "type": "quantitative", "scale": {"domain": [1000, 2500], "nice": false, "zero": false}, "axis": {"orient": "bottom", "values": [1000,1100,1200,1300,1400,1500,1600,1700,1800,1900,2000,2100,2200,2300,2400,2500], "tickSize": -12, "labels": false, "title": null}},
    "y": {"field": "v", "type": "quantitative", "scale": {"domain": [-0.3, 0.8], "nice": false, "zero": false}, "axis": {"orient": "left", "values": [-0.2,0,0.2,0.4,0.6,0.8], "tickSize": -12, "labelExpr": "toString(datum.value)", "labelFont": "Liberation Serif", "labelFontSize": 14, "labelPadding": 17, "title": "Re T & Im T", "titleFont": "Liberation Serif", "titleFontSize": 17, "titleFontWeight": "normal", "titlePadding": 12}},
    "detail": {"field": "c"},
    "color": {"field": "m", "type": "nominal"}
   }},
  {"data": {"name": "cur"}, "transform": [{"filter": "datum.m == '3R' && (datum.p == 'ab' || datum.p == 'b1')"}],
   "mark": {"type": "line", "strokeWidth": 2.6, "strokeDash": [10, 5], "interpolate": "monotone"},
   "encoding": {
    "x": {"field": "W", "type": "quantitative", "axis": {"orient": "top", "values": [1000,1100,1200,1300,1400,1500,1600,1700,1800,1900,2000,2100,2200,2300,2400,2500], "tickSize": -12, "labels": false, "title": null}},
    "y": {"field": "v", "type": "quantitative", "axis": {"orient": "right", "values": [-0.2,0,0.2,0.4,0.6,0.8], "tickSize": -12, "labels": false, "title": null}},
    "detail": {"field": "c"},
    "color": {"field": "m", "type": "nominal"}
   }},
  {"data": {"name": "inp"}, "transform": [{"filter": "datum.p == 'ab'"}],
   "mark": {"type": "rule", "color": "black", "strokeWidth": 1},
   "encoding": {
    "x": {"field": "W", "type": "quantitative", "axis": {"orient": "bottom", "values": [1050,1150,1250,1350,1450,1550,1650,1750,1850,1950,2050,2150,2250,2350,2450], "tickSize": -6, "labels": false, "title": null}},
    "y": {"field": "lo", "type": "quantitative", "axis": {"orient": "left", "values": [-0.1,0.1,0.3,0.5,0.7], "tickSize": -6, "labels": false, "title": null}},
    "y2": {"field": "hi"}
   }},
  {"data": {"name": "inp"}, "transform": [{"filter": "datum.p == 'ab'"}],
   "mark": {"type": "tick", "orient": "horizontal", "size": 6, "thickness": 1, "color": "black"},
   "encoding": {
    "x": {"field": "W", "type": "quantitative", "axis": {"orient": "top", "values": [1050,1150,1250,1350,1450,1550,1650,1750,1850,1950,2050,2150,2250,2350,2450], "tickSize": -6, "labels": false, "title": null}},
    "y": {"field": "lo", "type": "quantitative", "axis": {"orient": "right", "values": [-0.1,0.1,0.3,0.5,0.7], "tickSize": -6, "labels": false, "title": null}}
   }},
  {"data": {"name": "inp"}, "transform": [{"filter": "datum.p == 'ab'"}],
   "mark": {"type": "tick", "orient": "horizontal", "size": 6, "thickness": 1, "color": "black"},
   "encoding": {
    "x": {"field": "W", "type": "quantitative", "axis": null},
    "y": {"field": "hi", "type": "quantitative", "axis": null}
   }},
  {"data": {"name": "inp"}, "transform": [{"filter": "datum.p == 'ab'"}],
   "mark": {"type": "point", "shape": "square", "size": 6, "filled": false, "stroke": "black", "strokeWidth": 0.7, "fill": "white"},
   "encoding": {
    "x": {"field": "W", "type": "quantitative", "axis": null},
    "y": {"field": "v", "type": "quantitative", "axis": null}
   }},
  {"data": {"values": [{"t": "b₁)", "W": 1048, "v": 0.63}]},
   "mark": {"type": "text", "align": "left", "baseline": "alphabetic", "fontSize": 17, "font": "Liberation Serif", "color": "black"},
   "encoding": {
    "x": {"field": "W", "type": "quantitative", "axis": null},
    "y": {"field": "v", "type": "quantitative", "axis": null},
    "text": {"field": "t"}
   }}
 ],
 "resolve": {"axis": {"x": "independent", "y": "independent"}}
},
{
 "width": 713, "height": 152,
 "layer": [
  {"data": {"name": "cur"}, "transform": [{"filter": "datum.m == '4R' && datum.p == 'b2'"}],
   "mark": {"type": "line", "strokeWidth": 2, "interpolate": "monotone"},
   "encoding": {
    "x": {"field": "W", "type": "quantitative", "scale": {"domain": [1000, 2500], "nice": false, "zero": false}, "axis": {"orient": "bottom", "values": [1000,1100,1200,1300,1400,1500,1600,1700,1800,1900,2000,2100,2200,2300,2400,2500], "tickSize": -12, "format": "d", "labelFont": "Liberation Serif", "labelFontSize": 12.5, "labelPadding": 16, "title": "W [MeV]", "titleFont": "Liberation Serif", "titleFontSize": 18, "titleFontWeight": "normal", "titlePadding": 2}},
    "y": {"field": "v", "type": "quantitative", "scale": {"domain": [-0.4, 0.5], "nice": false, "zero": false}, "axis": {"orient": "left", "values": [-0.4,-0.2,0,0.2,0.4], "tickSize": -12, "labelExpr": "toString(datum.value)", "labelFont": "Liberation Serif", "labelFontSize": 14, "labelPadding": 17, "title": null}},
    "detail": {"field": "c"},
    "color": {"field": "m", "type": "nominal"}
   }},
  {"data": {"name": "cur"}, "transform": [{"filter": "datum.m == '3R' && datum.p == 'b2'"}],
   "mark": {"type": "line", "strokeWidth": 2.6, "strokeDash": [10, 5], "interpolate": "monotone"},
   "encoding": {
    "x": {"field": "W", "type": "quantitative", "axis": {"orient": "top", "values": [1000,1100,1200,1300,1400,1500,1600,1700,1800,1900,2000,2100,2200,2300,2400,2500], "tickSize": -12, "labels": false, "title": null}},
    "y": {"field": "v", "type": "quantitative", "axis": {"orient": "right", "values": [-0.4,-0.2,0,0.2,0.4], "tickSize": -12, "labels": false, "title": null}},
    "detail": {"field": "c"},
    "color": {"field": "m", "type": "nominal"}
   }},
  {"data": {"name": "inp"}, "transform": [{"filter": "datum.p == 'b2'"}],
   "mark": {"type": "rule", "color": "black", "strokeWidth": 1},
   "encoding": {
    "x": {"field": "W", "type": "quantitative", "axis": {"orient": "bottom", "values": [1050,1150,1250,1350,1450,1550,1650,1750,1850,1950,2050,2150,2250,2350,2450], "tickSize": -6, "labels": false, "title": null}},
    "y": {"field": "lo", "type": "quantitative", "axis": {"orient": "left", "values": [-0.3,-0.1,0.1,0.3], "tickSize": -6, "labels": false, "title": null}},
    "y2": {"field": "hi"}
   }},
  {"data": {"name": "inp"}, "transform": [{"filter": "datum.p == 'b2'"}],
   "mark": {"type": "tick", "orient": "horizontal", "size": 6, "thickness": 1, "color": "black"},
   "encoding": {
    "x": {"field": "W", "type": "quantitative", "axis": {"orient": "top", "values": [1050,1150,1250,1350,1450,1550,1650,1750,1850,1950,2050,2150,2250,2350,2450], "tickSize": -6, "labels": false, "title": null}},
    "y": {"field": "lo", "type": "quantitative", "axis": {"orient": "right", "values": [-0.3,-0.1,0.1,0.3], "tickSize": -6, "labels": false, "title": null}}
   }},
  {"data": {"name": "inp"}, "transform": [{"filter": "datum.p == 'b2'"}],
   "mark": {"type": "tick", "orient": "horizontal", "size": 6, "thickness": 1, "color": "black"},
   "encoding": {
    "x": {"field": "W", "type": "quantitative", "axis": null},
    "y": {"field": "hi", "type": "quantitative", "axis": null}
   }},
  {"data": {"name": "inp"}, "transform": [{"filter": "datum.p == 'b2'"}],
   "mark": {"type": "point", "shape": "square", "size": 6, "filled": false, "stroke": "black", "strokeWidth": 0.7, "fill": "white"},
   "encoding": {
    "x": {"field": "W", "type": "quantitative", "axis": null},
    "y": {"field": "v", "type": "quantitative", "axis": null}
   }},
  {"data": {"values": [{"t": "b₂)", "W": 1048, "v": 0.36}]},
   "mark": {"type": "text", "align": "left", "baseline": "alphabetic", "fontSize": 17, "font": "Liberation Serif", "color": "black"},
   "encoding": {
    "x": {"field": "W", "type": "quantitative", "axis": null},
    "y": {"field": "v", "type": "quantitative", "axis": null},
    "text": {"field": "t"}
   }}
 ],
 "resolve": {"axis": {"x": "independent", "y": "independent"}}
}
]
}
